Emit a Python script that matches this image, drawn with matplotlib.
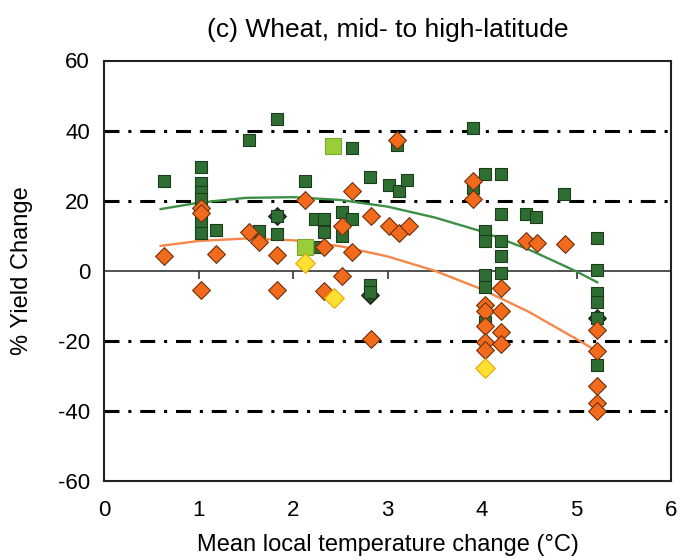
import numpy as np
import matplotlib.pyplot as plt

plt.rcParams['font.family'] = ['Liberation Sans', 'DejaVu Sans']
plt.rcParams['axes.unicode_minus'] = False

# with adaptation (dark green squares)
green_x = [0.63, 1.03, 1.03, 1.03, 1.03, 1.03, 1.03, 1.19, 1.53, 1.64, 1.83, 1.83, 1.83,
           2.13, 2.23, 2.23, 2.33, 2.33, 2.52, 2.52, 2.62, 2.62, 2.82, 2.82, 2.82,
           3.02, 3.10, 3.12, 3.21, 3.91, 3.91, 4.03, 4.03, 4.03, 4.03, 4.03, 4.03,
           4.20, 4.20, 4.20, 4.20, 4.20, 4.47, 4.57, 4.87,
           5.22, 5.22, 5.22, 5.22, 5.22, 5.22]
green_y = [25.5, 29.6, 24.9, 22.4, 20.5, 13.8, 10.9, 11.7, 37.4, 11.4, 43.4, 10.5, 15.5,
           25.5, 14.8, 6.9, 14.9, 11.2, 16.7, 9.8, 34.9, 14.9, 26.7, -4.0, -6.2,
           24.6, 36.0, 22.9, 25.8, 40.8, 23.6, 27.5, 11.4, 8.4, -1.1, -4.5, -14.5,
           27.5, 16.3, 8.4, 4.3, -0.5, 16.3, 15.2, 21.9,
           9.3, 0.1, -6.4, -8.8, -13.5, -26.9]

# without adaptation (orange diamonds)
orange_x = [0.63, 1.03, 1.03, 1.03, 1.18, 1.53, 1.64, 1.83, 1.83, 2.13, 2.33, 2.33,
            2.52, 2.52, 2.62, 2.62, 2.83, 2.83, 3.02, 3.10, 3.12, 3.23, 3.91, 3.91,
            4.03, 4.03, 4.03, 4.03, 4.03, 4.20, 4.20, 4.20, 4.20, 4.47, 4.58, 4.88,
            5.22, 5.22, 5.22, 5.22, 5.22]
orange_y = [4.3, 17.9, 16.5, -5.6, 4.9, 11.2, 8.1, 4.6, -5.4, 20.3, 6.9, -5.7,
            12.7, -1.6, 22.9, 5.3, 15.7, -19.5, 12.9, 37.4, 10.8, 12.9, 25.5, 20.5,
            -9.7, -11.6, -15.9, -20.2, -22.6, -4.9, -11.6, -17.6, -20.9, 8.4, 7.9, 7.7,
            -16.9, -22.8, -32.9, -37.8, -39.9]

# dark diamonds hidden behind squares
dark_x = [1.83, 2.82, 5.22]
dark_y = [15.5, -6.8, -13.5]

# light green squares and yellow diamonds
lgreen_x = [2.42, 2.13]
lgreen_y = [35.5, 6.9]
yellow_x = [2.13, 2.43, 4.03]
yellow_y = [2.2, -7.7, -27.8]

# trend lines
fit_x = [0.6, 1.0, 1.5, 2.0, 2.5, 3.0, 3.5, 4.0, 4.5, 5.0, 5.22]
fit_green = [17.6, 19.4, 20.8, 21.0, 20.2, 18.3, 15.2, 11.2, 6.0, -0.2, -3.3]
fit_orange = [7.1, 8.5, 9.2, 8.7, 7.0, 4.1, 0.0, -5.3, -11.8, -19.5, -23.0]

fig = plt.figure(figsize=(6.82, 5.6), dpi=100)
ax = fig.add_axes([104 / 682, 1 - 481 / 560, 567 / 682, 420.5 / 560])

for g in [-40, -20, 20, 40]:
    ax.axhline(g, color='black', lw=2.2, ls=(0, (4.9, 2.9, 1.0, 2.9)), zorder=1)
ax.axhline(0, color='#333333', lw=1.2, zorder=1)
ax.vlines([1, 2, 3, 4, 5], -2.3, 0, color='#333333', lw=1.2, zorder=1)

ax.plot(fit_x, fit_green, color='#3d8f45', lw=1.7, zorder=2)
ax.plot(fit_x, fit_orange, color='#f5874a', lw=1.7, zorder=2)

ax.scatter(dark_x, dark_y, marker='D', s=82, c='#2a4a22', edgecolors='#1a1a1a',
           linewidths=0.8, zorder=3)
ax.scatter(green_x, green_y, marker='s', s=70, c='#2f6e33', edgecolors='#1b3d1c',
           linewidths=0.8, zorder=4)
ax.scatter(orange_x, orange_y, marker='D', s=82, c='#f26b1d', edgecolors='#6b3010',
           linewidths=0.8, zorder=5)
ax.scatter(lgreen_x, lgreen_y, marker='s', s=125, c='#9acd3a', edgecolors='#7aa830',
           linewidths=0.8, zorder=6)
ax.scatter(yellow_x, yellow_y, marker='D', s=100, c='#ffe033', edgecolors='#e8a800',
           linewidths=0.8, zorder=6)

ax.set_xlim(0, 6)
ax.set_ylim(-60, 60)
ax.set_xticks(range(0, 7))
ax.set_yticks(range(-60, 61, 20))
ax.tick_params(axis='y', length=0, labelsize=16, pad=10)
ax.tick_params(axis='x', length=0, labelsize=16, pad=14)
for s in ax.spines.values():
    s.set_linewidth(1.5)
    s.set_color('#222222')

ax.set_title('(c) Wheat, mid- to high-latitude', fontsize=19, pad=17)
ax.set_xlabel('Mean local temperature change (°C)', fontsize=17)
ax.set_ylabel('% Yield Change', fontsize=17)
ax.xaxis.set_label_coords(0.5, -0.125)
ax.yaxis.set_label_coords(-0.125, 0.5)

fig.savefig('out.png', dpi=100)
